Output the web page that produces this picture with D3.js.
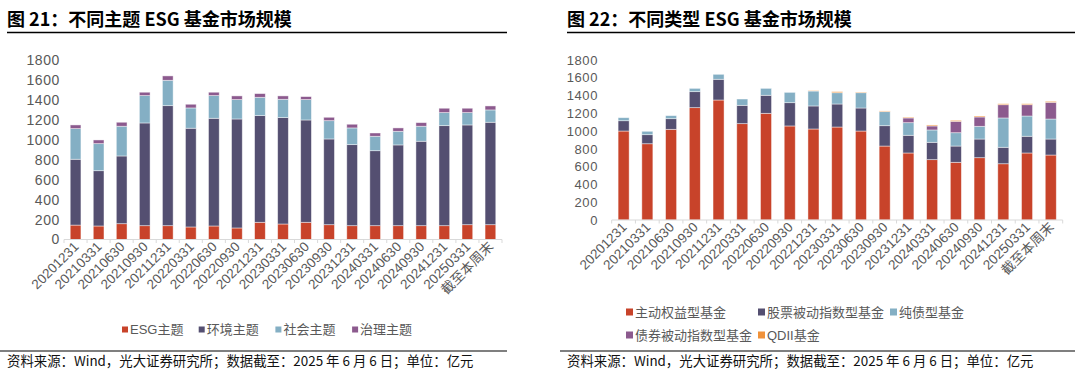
<!DOCTYPE html>
<html>
<head>
<meta charset="utf-8">
<script src="https://cdn.jsdelivr.net/npm/d3@7"></script>
<style>
  body { margin: 0; background: #fff; }
  svg { display: block; font-family: "Liberation Sans", "Noto Sans CJK SC", sans-serif; }
  .tick text { fill: #595959; }
  .title { font-family: "Noto Sans CJK SC", sans-serif; font-weight: bold; font-size: 18px; fill: #000; }
  .foot { font-family: "Noto Sans CJK SC", sans-serif; font-size: 13.4px; fill: #111; }
  .legend text { font-family: "Liberation Sans", "Noto Sans CJK SC", sans-serif; font-size: 13px; fill: #595959; }
</style>
</head>
<body>
<script>
var width = 1080, height = 375;

var categories = ["20201231", "20210331", "20210630", "20210930", "20211231", "20220331",
  "20220630", "20220930", "20221231", "20230331", "20230630", "20230930", "20231231",
  "20240331", "20240630", "20240930", "20241231", "20250331", "截至本周末"];

// left chart: by theme (亿元)
var esgTheme = [145, 136, 159, 139, 139, 126, 136, 116, 173, 156, 173, 149, 139, 139, 139, 139, 139, 149, 149];
var envTheme = [662, 556, 681, 1033, 1207, 993, 1083, 1096, 1073, 1070, 1029, 862, 815, 754, 812, 849, 1006, 1003, 1030];
var socialTheme = [308, 272, 299, 275, 255, 204, 228, 195, 184, 184, 205, 184, 168, 145, 137, 151, 131, 124, 124];
var govTheme = [37, 37, 40, 34, 44, 37, 34, 37, 37, 34, 30, 34, 37, 33, 34, 36, 44, 44, 40];

// right chart: by fund type (亿元)
var activeEquity = [1001, 858, 1020, 1264, 1350, 1084, 1200, 1058, 1024, 1046, 1001, 832, 754, 679, 649, 701, 633, 754, 731];
var passiveEquity = [116, 102, 120, 180, 233, 206, 203, 262, 259, 259, 259, 229, 199, 195, 183, 210, 185, 188, 180];
var pureBond = [34, 38, 34, 37, 56, 71, 78, 116, 168, 127, 172, 158, 142, 139, 150, 143, 330, 228, 225];
var bondIndex = [0, 0, 0, 0, 0, 0, 0, 0, 0, 0, 0, 0, 53, 45, 128, 105, 149, 127, 188];
var qdii = [0, 0, 0, 0, 0, 0, 0, 0, 5, 12, 7, 8, 9, 11, 11, 11, 11, 11, 11];

var yTicks = [0, 200, 400, 600, 800, 1000, 1200, 1400, 1600, 1800];

var colors = ["#C8432A", "#544F71", "#84AFC4", "#8C5A8E", "#F0923A"];

var svg = d3.select("body").append("svg")
  .attr("width", width)
  .attr("height", height);

function drawPanel(cfg) {
  var g = svg.append("g");

  g.append("text").attr("class", "title")
    .attr("x", cfg.left + 7).attr("y", 25.5)
    .text(cfg.title);
  g.append("line")
    .attr("x1", cfg.left + 7).attr("x2", cfg.right)
    .attr("y1", 32.5).attr("y2", 32.5)
    .attr("stroke", "#000").attr("stroke-width", 1.5);

  g.append("line")
    .attr("x1", cfg.left).attr("x2", cfg.right)
    .attr("y1", 351).attr("y2", 351)
    .attr("stroke", "#000").attr("stroke-width", 1.2);
  g.append("text").attr("class", "foot")
    .attr("x", cfg.left + 7).attr("y", 366)
    .text("资料来源：Wind，光大证券研究所；数据截至：2025 年 6 月 6 日；单位：亿元");

  var rows = categories.map(function(c, i) {
    var r = { cat: c };
    cfg.keys.forEach(function(k, j) { r[k] = cfg.values[j][i]; });
    return r;
  });

  var x = d3.scaleBand().domain(categories)
    .range([cfg.x0, cfg.x1])
    .paddingInner(0.535).paddingOuter(0.27);
  var y = d3.scaleLinear().domain([0, 1800]).range([cfg.y0, cfg.y1]);

  var stack = d3.stack().keys(cfg.keys)(rows);

  g.selectAll(".series")
    .data(stack)
    .enter().append("g")
    .attr("fill", function(d, i) { return colors[i]; })
    .selectAll("rect")
    .data(function(d) { return d; })
    .enter().append("rect")
    .attr("x", function(d) { return x(d.data.cat); })
    .attr("width", x.bandwidth())
    .attr("y", function(d) { return y(d[1]); })
    .attr("height", function(d) { return Math.max(0, y(d[0]) - y(d[1])); })
    .attr("stroke", "#fff")
    .attr("stroke-opacity", 0.55)
    .attr("stroke-width", 0.8);

  // y axis, labels only
  var yAxis = g.append("g")
    .attr("transform", "translate(" + cfg.yLabelX + ",0)")
    .call(d3.axisLeft(y).tickValues(yTicks).tickFormat(d3.format("d")).tickSize(0).tickPadding(0));
  yAxis.select(".domain").remove();
  yAxis.selectAll("text")
    .style("font-size", cfg.yFont + "px")
    .style("letter-spacing", cfg.ySpacing + "px");

  // x axis with boundary ticks
  var xa = g.append("g").attr("transform", "translate(0," + cfg.y0 + ")");
  xa.append("line")
    .attr("x1", cfg.x0).attr("x2", cfg.x1)
    .attr("stroke", "#D9D9D9").attr("stroke-width", 1.2);
  var step = (cfg.x1 - cfg.x0) / categories.length;
  xa.selectAll(".btick")
    .data(d3.range(categories.length + 1))
    .enter().append("line")
    .attr("x1", function(i) { return cfg.x0 + i * step; })
    .attr("x2", function(i) { return cfg.x0 + i * step; })
    .attr("y1", 0).attr("y2", 3.5)
    .attr("stroke", "#D9D9D9");
  xa.selectAll(".xl")
    .data(categories)
    .enter().append("text")
    .attr("text-anchor", "end")
    .attr("fill", "#595959")
    .style("font-size", "13.5px")
    .attr("transform", function(d) {
      return "translate(" + (x(d) + x.bandwidth() / 2 + 4) + ",8) rotate(-45)";
    })
    .text(function(d) { return d; });

  // legend in fixed columns
  var lg = g.append("g").attr("class", "legend");
  cfg.names.forEach(function(n, i) {
    var col = i % cfg.perRow, row = Math.floor(i / cfg.perRow);
    var lx = cfg.legX + col * cfg.legStep, ly = cfg.legY + row * 23;
    lg.append("rect")
      .attr("x", lx).attr("y", ly - cfg.sq + 0.5)
      .attr("width", cfg.sq).attr("height", cfg.sq)
      .attr("fill", colors[i]);
    lg.append("text")
      .attr("x", lx + cfg.sq + 2).attr("y", ly + 1.5)
      .text(n);
  });
}

drawPanel({
  title: "图 21：不同主题 ESG 基金市场规模",
  left: 0, right: 507,
  keys: ["esg", "env", "social", "gov"],
  values: [esgTheme, envTheme, socialTheme, govTheme],
  names: ["ESG主题", "环境主题", "社会主题", "治理主题"],
  x0: 64, x1: 502, y0: 239.5, y1: 60.5,
  yLabelX: 60, yFont: 14, ySpacing: 0.6,
  legX: 122, legY: 332, legStep: 76.7, perRow: 4, sq: 6
});

drawPanel({
  title: "图 22：不同类型 ESG 基金市场规模",
  left: 560, right: 1075,
  keys: ["active", "passive", "pure", "bidx", "qdii"],
  values: [activeEquity, passiveEquity, pureBond, bondIndex, qdii],
  names: ["主动权益型基金", "股票被动指数型基金", "纯债型基金", "债券被动指数型基金", "QDII基金"],
  x0: 611.7, x1: 1062.7, y0: 220, y1: 60,
  yLabelX: 598, yFont: 13, ySpacing: 0.6,
  legX: 626, legY: 315, legStep: 132, perRow: 3, sq: 7
});
</script>
</body>
</html>
